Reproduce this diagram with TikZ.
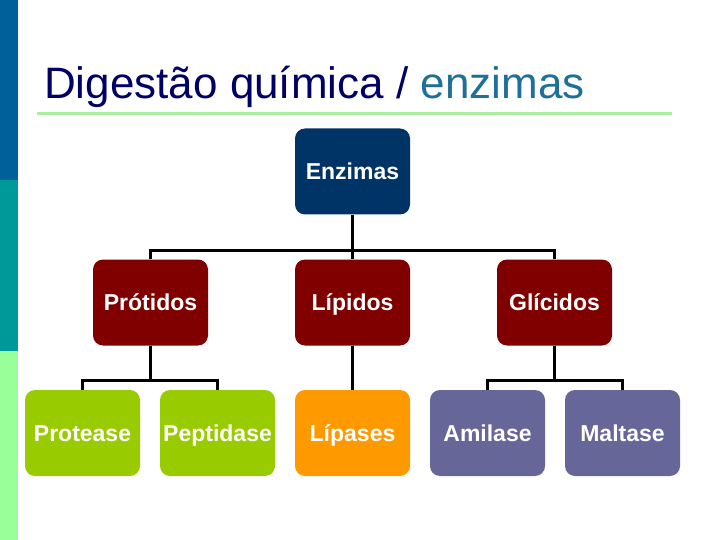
\documentclass[tikz,border=0pt]{standalone}
\usepackage{fontspec}
\setmainfont{Liberation Sans}
\definecolor{barblue}{HTML}{00609A}
\definecolor{barteal}{HTML}{009999}
\definecolor{bargreen}{HTML}{99FF99}
\definecolor{titlenavy}{HTML}{000066}
\definecolor{titleteal}{HTML}{1F7099}
\definecolor{rulegreen}{HTML}{A8F0A0}
\definecolor{cnavy}{HTML}{003366}
\definecolor{cred}{HTML}{800000}
\definecolor{clime}{HTML}{99CC00}
\definecolor{corange}{HTML}{FF9900}
\definecolor{cpurple}{HTML}{666699}
\tikzset{
  box/.style={rounded corners=10pt, minimum width=115pt, minimum height=86pt,
    inner sep=0pt, text height=16pt, text depth=0pt, text=white,
    font=\fontsize{23}{26}\selectfont\bfseries},
  conn/.style={draw=black, line width=3pt},
}
\begin{document}
\begin{tikzpicture}[x=1pt,y=-1pt]
\useasboundingbox (0,0) rectangle (720,540);
\fill[white] (0,0) rectangle (720,540);
\fill[barblue] (0,0) rectangle (18,180);
\fill[barteal] (0,180) rectangle (18,351);
\fill[bargreen] (0,351) rectangle (18,540);
\node[anchor=base west, inner sep=0pt, font=\fontsize{44}{50}\selectfont] (title) at (44,99)
  {\textcolor{titlenavy}{Digestão química /} \textcolor{titleteal}{enzimas}};
\draw[rulegreen, line width=3pt] (37,114) -- (672,114);
% nodes
\node[box, fill=cnavy] (enz) at (352.5,171.5) {Enzimas};
\node[box, fill=cred] (prot) at (150.5,302.5) {Prótidos};
\node[box, fill=cred] (lip) at (352.5,302.5) {Lípidos};
\node[box, fill=cred] (gli) at (554.5,302.5) {Glícidos};
\node[box, fill=clime] (protease) at (82.5,433) {Protease};
\node[box, fill=clime] (pept) at (217.5,433) {Peptidase};
\node[box, fill=corange] (lipases) at (352.5,433) {Lípases};
\node[box, fill=cpurple] (amil) at (487.5,433) {Amilase};
\node[box, fill=cpurple] (malt) at (622.5,433) {Maltase};
% connectors
\draw[conn] (enz.south) -- ++(0,36) -| (prot.north);
\draw[conn] (enz.south) -- ++(0,36) -| (gli.north);
\draw[conn] (enz.south) -- (lip.north);
\draw[conn] (prot.south) -- ++(0,35) -| (protease.north);
\draw[conn] (prot.south) -- ++(0,35) -| (pept.north);
\draw[conn] (lip.south) -- (lipases.north);
\draw[conn] (gli.south) -- ++(0,35) -| (amil.north);
\draw[conn] (gli.south) -- ++(0,35) -| (malt.north);
\end{tikzpicture}
\end{document}
